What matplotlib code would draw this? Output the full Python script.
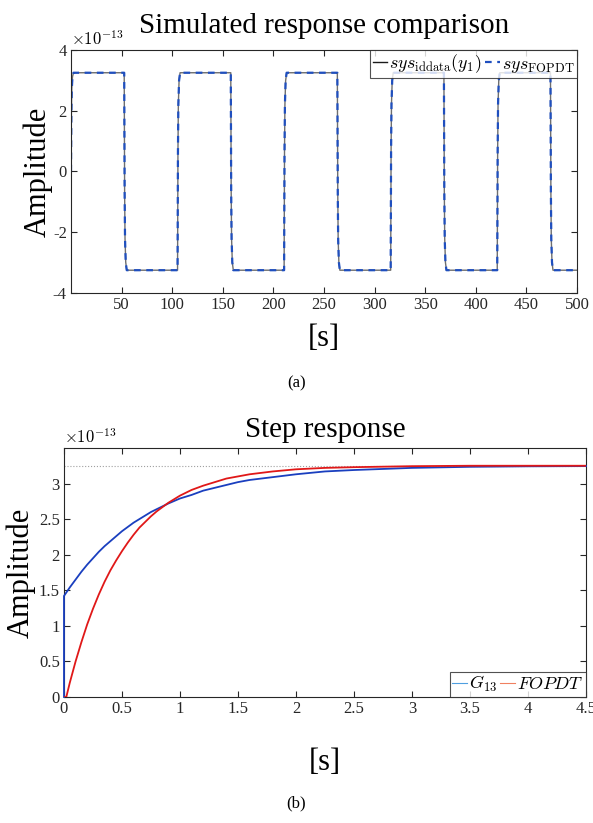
import numpy as np
import matplotlib
matplotlib.use('Agg')
import matplotlib.pyplot as plt

plt.rcParams['font.family'] = ['Liberation Serif', 'DejaVu Serif']
plt.rcParams['mathtext.fontset'] = 'cm'
plt.rcParams['axes.unicode_minus'] = False

# (a) square-wave response, values in units of 1e-13
switch_t = [0, 52.6, 105.3, 157.9, 210.6, 263.2, 315.9, 368.5, 421.2, 473.8]
levels = [3.25, -3.25, 3.25, -3.25, 3.25, -3.25, 3.25, -3.25, 3.25, -3.25]
edge_dt = [0, 0.4, 0.8, 1.5, 2.5]
edge_frac = [0, 0.60, 0.84, 0.96, 1.0]
t_end = 500

# (b) step responses, values in units of 1e-13
t_g13 = [0, 0, 0.05, 0.1, 0.15, 0.2, 0.25, 0.3, 0.35, 0.4, 0.45, 0.5, 0.55,
         0.6, 0.65, 0.7, 0.75, 0.8, 0.9, 1.0, 1.1, 1.2, 1.3, 1.4, 1.5, 1.6,
         1.8, 2.0, 2.25, 2.5, 3.0, 3.5, 4.0, 4.5]
y_g13 = [0, 1.42, 1.54, 1.65, 1.76, 1.86, 1.95, 2.04, 2.12, 2.19, 2.26, 2.33,
         2.39, 2.45, 2.50, 2.55, 2.60, 2.64, 2.72, 2.79, 2.84, 2.90, 2.94,
         2.98, 3.02, 3.05, 3.09, 3.13, 3.17, 3.19, 3.22, 3.235, 3.242, 3.245]
t_fopdt = [0, 0.02, 0.05, 0.1, 0.15, 0.2, 0.25, 0.3, 0.35, 0.4, 0.45, 0.5,
           0.55, 0.6, 0.65, 0.7, 0.75, 0.8, 0.9, 1.0, 1.1, 1.2, 1.3, 1.4,
           1.5, 1.6, 1.8, 2.0, 2.25, 2.5, 3.0, 3.5, 4.0, 4.5]
y_fopdt = [0, 0, 0.20, 0.50, 0.77, 1.02, 1.24, 1.44, 1.62, 1.78, 1.92, 2.05,
           2.17, 2.28, 2.38, 2.46, 2.54, 2.61, 2.73, 2.83, 2.91, 2.97, 3.02,
           3.07, 3.10, 3.13, 3.17, 3.20, 3.22, 3.23, 3.244, 3.25, 3.25, 3.25]
y_final = 3.25


def square_series():
    t, y = [], []
    prev = 0.0
    for i, ts in enumerate(switch_t):
        lvl = levels[i]
        for dt, f in zip(edge_dt, edge_frac):
            t.append(ts + dt)
            y.append(prev + (lvl - prev) * f)
        prev = lvl
    t.append(t_end)
    y.append(prev)
    return np.array(t), np.array(y)


def style_axes(ax):
    ax.tick_params(direction='in', top=True, right=True, length=4,
                   width=0.8, labelsize=12, colors='#262626', pad=3)
    for s in ax.spines.values():
        s.set_color('#262626')
        s.set_linewidth(0.8)


fig = plt.figure(figsize=(5.93, 8.23), dpi=100)

# top plot
ax1 = fig.add_axes([0.1197, 0.644, 0.8533, 0.2953])
ts, ys = square_series()
ax1.plot(ts, ys, color='#6e6e6e', lw=1.0,
         label=r'$sys_{\mathrm{iddata}}(y_1)$')
ax1.plot(ts, ys, color='#1f4fbf', lw=1.6, ls=(0, (3, 2.5)),
         label=r'$sys_{\mathrm{FOPDT}}$')
ax1.set_xlim(0, 500)
ax1.set_ylim(-4, 4)
ax1.set_xticks(np.arange(50, 501, 50))
ax1.set_yticks([-4, -2, 0, 2, 4])
ax1.set_yticklabels(['-4', '-2', '0', '2', '4'])
style_axes(ax1)
ax1.set_title('Simulated response comparison', fontsize=21, pad=12)
ax1.set_ylabel('Amplitude', fontsize=22, labelpad=0)
ax1.set_xlabel('[s]', fontsize=22, labelpad=8)
ax1.text(0.0, 1.005, r'$\times 10^{-13}$', transform=ax1.transAxes,
         fontsize=12, ha='left', va='bottom', family='DejaVu Serif')
leg1 = ax1.legend(loc='upper right', ncol=2, fontsize=13, frameon=True,
                  fancybox=False, handlelength=0.8, handletextpad=0.1,
                  columnspacing=0.2, borderpad=0.15, borderaxespad=0.0)
leg1.get_frame().set_edgecolor('#262626')
leg1.get_frame().set_linewidth(0.8)
leg1.legend_handles[0].set_color('#1a1a1a')

fig.text(0.5, 1 - 383 / 823, '(a)', ha='center', va='center', fontsize=12)

# bottom plot
ax2 = fig.add_axes([0.1079, 0.1531, 0.8803, 0.3026])
ax2.plot([0, 4.5], [y_final, y_final], color='#a0a0a0', lw=0.8, ls=':')
ax2.plot(t_g13, y_g13, color='#1a3fbf', lw=1.3, label=r'$G_{13}$',
         clip_on=False, zorder=3)
ax2.plot(t_fopdt, y_fopdt, color='#e01818', lw=1.3, label=r'$FOPDT$',
         zorder=3)
ax2.set_xlim(0, 4.5)
ax2.set_ylim(0, 3.5)
ax2.set_xticks(np.arange(0, 4.51, 0.5))
ax2.set_xticklabels(['0', '0.5', '1', '1.5', '2', '2.5', '3', '3.5', '4', '4.5'])
ax2.set_yticks(np.arange(0, 3.01, 0.5))
ax2.set_yticklabels(['0', '0.5', '1', '1.5', '2', '2.5', '3'])
style_axes(ax2)
ax2.set_title('Step response', fontsize=21, pad=8)
ax2.set_ylabel('Amplitude', fontsize=22, labelpad=2)
ax2.set_xlabel('[s]', fontsize=22, labelpad=22)
ax2.text(0.0, 1.005, r'$\times 10^{-13}$', transform=ax2.transAxes,
         fontsize=12, ha='left', va='bottom', family='DejaVu Serif')
leg2 = ax2.legend(loc='lower right', ncol=2, fontsize=13, frameon=True,
                  fancybox=False, handlelength=0.8, handletextpad=0.1,
                  columnspacing=0.2, borderpad=0.15, borderaxespad=0.0)
leg2.set_zorder(5)
leg2.get_frame().set_edgecolor('#262626')
leg2.get_frame().set_linewidth(0.8)
leg2.legend_handles[0].set_color('#4f9fe0')
leg2.legend_handles[0].set_linewidth(0.8)
leg2.legend_handles[1].set_color('#f08060')
leg2.legend_handles[1].set_linewidth(0.8)

fig.text(0.5, 1 - 803 / 823, '(b)', ha='center', va='center', fontsize=12)

fig.savefig('out.png', dpi=100)
